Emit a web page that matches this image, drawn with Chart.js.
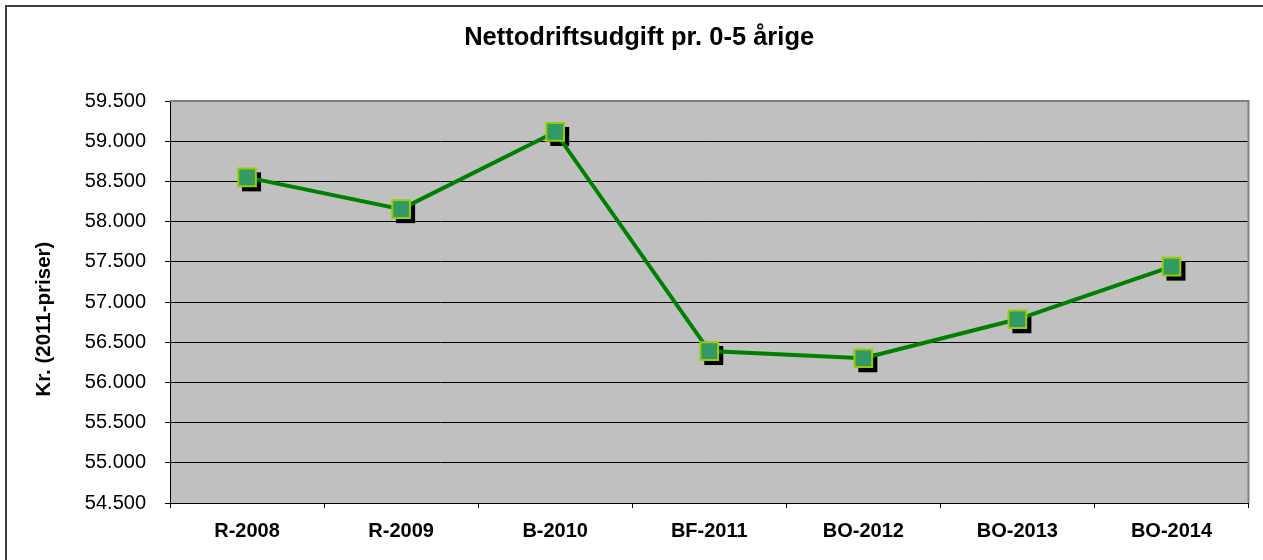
<!DOCTYPE html>
<html>
<head>
<meta charset="utf-8">
<script src="https://cdn.jsdelivr.net/npm/chart.js@4"></script>
<style>
  html, body { margin: 0; padding: 0; background: #fff; }
  #wrap { width: 1263px; height: 560px; position: relative; }
</style>
</head>
<body>
<div id="wrap"><canvas id="c"></canvas></div>
<script>
const categories = ['R-2008', 'R-2009', 'B-2010', 'BF-2011', 'BO-2012', 'BO-2013', 'BO-2014'];
const values = [58550, 58155, 59115, 56390, 56300, 56785, 57440];
const chartTitle = 'Nettodriftsudgift pr. 0-5 årige';
const yAxisTitle = 'Kr. (2011-priser)';
const yMin = 54500;
const yMax = 59500;
const yStep = 500;

function formatDa(v) {
  return String(Math.round(v)).replace(/\B(?=(\d{3})+(?!\d))/g, '.');
}

const decor = {
  id: 'decor',
  beforeDraw(chart) {
    const ctx = chart.ctx, a = chart.chartArea;
    ctx.save();
    ctx.fillStyle = '#ffffff';
    ctx.fillRect(0, 0, chart.width, chart.height);
    ctx.strokeStyle = '#404040';
    ctx.lineWidth = 2;
    ctx.beginPath();
    ctx.moveTo(6, chart.height);
    ctx.lineTo(6, 6);
    ctx.lineTo(chart.width, 6);
    ctx.stroke();
    ctx.fillStyle = '#C0C0C0';
    ctx.fillRect(a.left, a.top, a.right - a.left, a.bottom - a.top);
    ctx.restore();
  },
  beforeDatasetsDraw(chart) {
    const ctx = chart.ctx, a = chart.chartArea;
    ctx.save();
    ctx.strokeStyle = '#808080';
    ctx.lineWidth = 2;
    ctx.beginPath();
    ctx.moveTo(a.left, a.top);
    ctx.lineTo(a.right, a.top);
    ctx.lineTo(a.right, a.bottom);
    ctx.stroke();
    const meta = chart.getDatasetMeta(0);
    ctx.fillStyle = '#000000';
    meta.data.forEach(p => {
      const s = 9;
      ctx.fillRect(p.x - s + 4, p.y - s + 4, 2 * s + 1, 2 * s + 1);
    });
    ctx.restore();
  }
};

new Chart(document.getElementById('c'), {
  type: 'line',
  data: {
    labels: categories,
    datasets: [{
      data: values,
      borderColor: '#008000',
      borderWidth: 4,
      tension: 0,
      pointStyle: 'rect',
      pointRadius: 12.5,
      pointHoverRadius: 12.5,
      pointBackgroundColor: '#339966',
      pointBorderColor: '#99CC00',
      pointBorderWidth: 2
    }]
  },
  options: {
    responsive: true,
    maintainAspectRatio: false,
    animation: false,
    events: [],
    layout: { padding: { left: 0, right: 13, top: 0, bottom: 0 } },
    plugins: {
      legend: { display: false },
      tooltip: { enabled: false },
      title: {
        display: true,
        text: '    ' + chartTitle,
        color: '#000',
        font: { family: 'Liberation Sans', size: 25.5, weight: 'bold', lineHeight: 1.2 },
        padding: { top: 23, bottom: 47.4 }
      }
    },
    scales: {
      x: {
        offset: true,
        afterFit(scale) { scale.height = 57; },
        grid: {
          offset: true,
          drawOnChartArea: false,
          drawTicks: true,
          tickLength: 5,
          color: '#000'
        },
        border: { color: '#000', width: 1 },
        ticks: {
          color: '#000',
          padding: 11,
          font: { family: 'Liberation Sans', size: 20, weight: 'bold' }
        }
      },
      y: {
        min: yMin,
        max: yMax,
        afterFit(scale) { scale.width = 170; },
        grid: {
          color: '#000',
          lineWidth: 1,
          drawTicks: true,
          tickLength: 5
        },
        border: { color: '#000', width: 1 },
        ticks: {
          stepSize: yStep,
          color: '#000',
          padding: 19,
          font: { family: 'Liberation Sans', size: 20 },
          callback: v => formatDa(v)
        },
        title: {
          display: true,
          text: yAxisTitle + '      ',
          color: '#000',
          font: { family: 'Liberation Sans', size: 20.5, weight: 'bold', lineHeight: 1.2 },
          padding: { top: 32, bottom: 0 }
        }
      }
    }
  },
  plugins: [decor]
});
</script>
</body>
</html>
